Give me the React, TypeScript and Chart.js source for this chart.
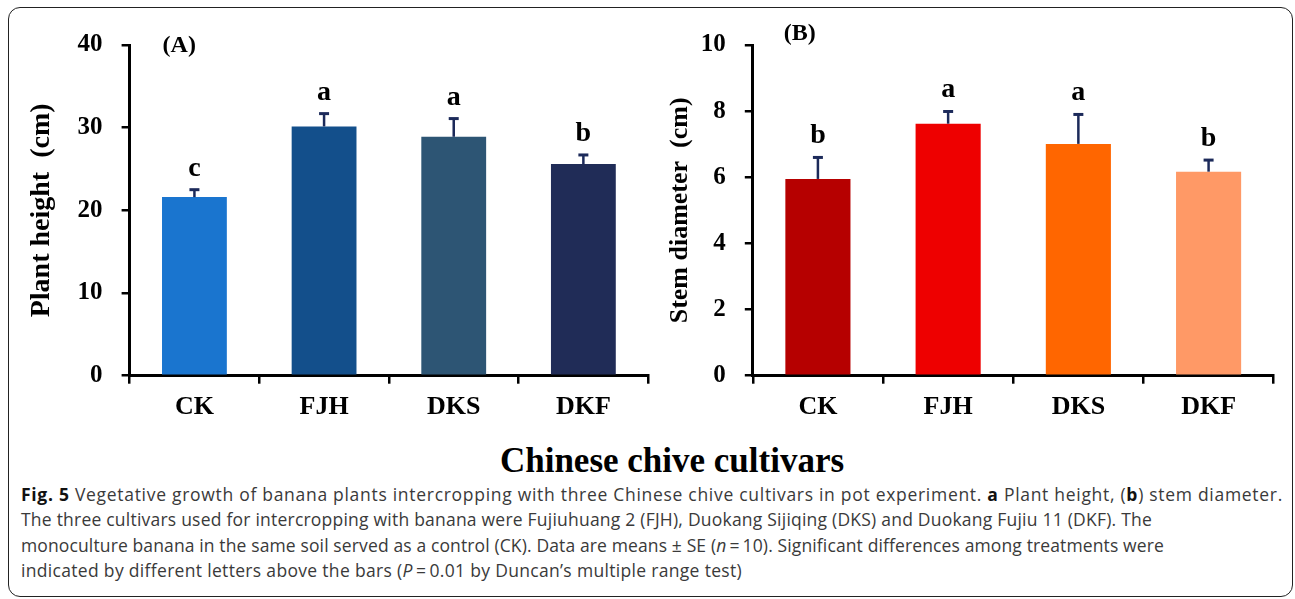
import React, { useEffect, useLayoutEffect, useRef } from "react";
import { Chart, registerables } from "chart.js";

Chart.register(...registerables);

const categories = ["CK", "FJH", "DKS", "DKF"];

const heightMeans = [21.6, 30.15, 28.9, 25.6];
const heightSE = [0.9, 1.55, 2.2, 1.1];
const heightLetters = ["c", "a", "a", "b"];
const heightColors = ["#1a75cf", "#134f8b", "#2d5574", "#202c57"];

const diameterMeans = [5.95, 7.62, 7.01, 6.17];
const diameterSE = [0.65, 0.37, 0.89, 0.35];
const diameterLetters = ["b", "a", "a", "b"];
const diameterColors = ["#b60000", "#ee0000", "#ff6600", "#ff9966"];

const SERIF = '"Liberation Serif", "Times New Roman", serif';

type PanelSpec = {
  means: number[];
  se: number[];
  letters: string[];
  colors: string[];
  yMax: number;
  yStep: number;
  yTitle: string;
  yTitleSize: number;
  yTitlePad: number;
  panel: string;
  panelDx: number;
  panelY: number;
  axisWidth: number;
  padRight: number;
  canvasW: number;
};

function makeAnnotPlugin(spec: PanelSpec) {
  return {
    id: "annot",
    afterDatasetsDraw(chart: any) {
      const { ctx } = chart;
      const y = chart.scales.y;
      const meta = chart.getDatasetMeta(0);
      ctx.save();
      meta.data.forEach((bar: any, i: number) => {
        const cx = bar.x;
        const base = y.getPixelForValue(spec.means[i]);
        const top = y.getPixelForValue(spec.means[i] + spec.se[i]);
        ctx.strokeStyle = "#1c2a5a";
        ctx.lineWidth = 2.5;
        ctx.beginPath();
        ctx.moveTo(cx, base);
        ctx.lineTo(cx, top);
        ctx.stroke();
        ctx.lineWidth = 3;
        ctx.beginPath();
        ctx.moveTo(cx - 5, top);
        ctx.lineTo(cx + 5, top);
        ctx.stroke();
        ctx.fillStyle = "#000";
        ctx.font = `bold 28px ${SERIF}`;
        ctx.textAlign = "center";
        ctx.textBaseline = "alphabetic";
        ctx.fillText(spec.letters[i], cx, top - 14);
      });
      ctx.font = `bold 24px ${SERIF}`;
      ctx.textAlign = "left";
      ctx.textBaseline = "middle";
      ctx.fillStyle = "#000";
      ctx.fillText(spec.panel, chart.chartArea.left + spec.panelDx, spec.panelY);
      ctx.restore();
    },
  };
}

function Panel({ spec, left }: { spec: PanelSpec; left: number }) {
  const ref = useRef<HTMLCanvasElement | null>(null);
  useEffect(() => {
    if (!ref.current) return;
    const chart = new Chart(ref.current, {
      type: "bar",
      data: {
        labels: categories,
        datasets: [
          {
            data: spec.means,
            backgroundColor: spec.colors,
            barPercentage: 0.5,
            categoryPercentage: 1,
          },
        ],
      },
      options: {
        animation: false,
        responsive: false,
        maintainAspectRatio: false,
        layout: { padding: { left: 0, top: 45, right: spec.padRight, bottom: 0 } },
        plugins: { legend: { display: false }, tooltip: { enabled: false } },
        scales: {
          x: {
            grid: {
              display: true,
              drawOnChartArea: false,
              drawTicks: true,
              tickLength: 8,
              color: "#000",
              lineWidth: 2.5,
              offset: true,
            },
            border: { display: true, color: "#000", width: 3 },
            ticks: {
              color: "#000",
              font: { family: SERIF, size: 26, weight: "bold" },
              padding: 8,
            },
            afterFit: (s: any) => {
              s.height = 54.3;
            },
          },
          y: {
            min: 0,
            max: spec.yMax,
            ticks: {
              stepSize: spec.yStep,
              color: "#000",
              font: { family: SERIF, size: 25, weight: "bold" },
              padding: 19,
            },
            grid: {
              display: true,
              drawOnChartArea: false,
              drawTicks: true,
              tickLength: 8,
              color: "#000",
              lineWidth: 2.5,
            },
            border: { display: true, color: "#000", width: 3 },
            title: {
              display: true,
              text: spec.yTitle,
              color: "#000",
              font: { family: SERIF, size: spec.yTitleSize, weight: "bold" },
              padding: { top: spec.yTitlePad, bottom: 0 },
            },
            afterFit: (s: any) => {
              s.width = spec.axisWidth;
            },
          },
        },
      } as any,
      plugins: [makeAnnotPlugin(spec) as any],
    });
    return () => chart.destroy();
  }, []);
  return (
    <canvas
      ref={ref}
      width={spec.canvasW}
      height={430}
      style={{ position: "absolute", left, top: 0, width: spec.canvasW, height: 430 }}
    />
  );
}

const specA: PanelSpec = {
  means: heightMeans,
  se: heightSE,
  letters: heightLetters,
  colors: heightColors,
  yMax: 40,
  yStep: 10,
  yTitle: "Plant height  (cm)",
  yTitleSize: 28,
  yTitlePad: 25,
  panel: "(A)",
  panelDx: 33,
  panelY: 46,
  axisWidth: 129.6,
  padRight: 11.8,
  canvasW: 660,
};

const specB: PanelSpec = {
  means: diameterMeans,
  se: diameterSE,
  letters: diameterLetters,
  colors: diameterColors,
  yMax: 10,
  yStep: 2,
  yTitle: "Stem diameter  (cm)",
  yTitleSize: 26,
  yTitlePad: 25,
  panel: "(B)",
  panelDx: 31,
  panelY: 34,
  axisWidth: 112.8,
  padRight: 16.3,
  canvasW: 650,
};

const captionLines = [
  [
    { t: "Fig. 5", b: true, dark: true },
    { t: " Vegetative growth of banana plants intercropping with three Chinese chive cultivars in pot experiment. " },
    { t: "a", b: true, dark: true },
    { t: " Plant height, (" },
    { t: "b", b: true, dark: true },
    { t: ") stem diameter." },
  ],
  [
    {
      t: "The three cultivars used for intercropping with banana were Fujiuhuang 2 (FJH), Duokang Sijiqing (DKS) and Duokang Fujiu 11 (DKF). The",
    },
  ],
  [
    { t: "monoculture banana in the same soil served as a control (CK). Data are means \u00b1 SE (" },
    { t: "n", i: true },
    { t: "\u2009=\u200910). Significant differences among treatments were" },
  ],
  [
    { t: "indicated by different letters above the bars (" },
    { t: "P", i: true },
    { t: "\u2009=\u20090.01 by Duncan\u2019s multiple range test)" },
  ],
] as { t: string; b?: boolean; i?: boolean; dark?: boolean }[][];

const captionWidths = [1262, 1131, 1143, 721];

export default function App() {
  const lineRefs = useRef<(HTMLSpanElement | null)[]>([]);
  useEffect(() => {
    document.body.style.overflow = "hidden";
  }, []);
  useLayoutEffect(() => {
    lineRefs.current.forEach((el, i) => {
      if (!el) return;
      el.style.letterSpacing = "0px";
      const w = el.getBoundingClientRect().width;
      const n = (el.textContent || "").length;
      el.style.letterSpacing = `${(captionWidths[i] - w) / n}px`;
    });
  }, []);
  return (
    <div
      style={{
        position: "fixed",
        left: 0,
        top: 0,
        width: 1295,
        height: 599,
        background: "#fff",
        overflow: "hidden",
      }}
    >
      <div
        style={{
          position: "absolute",
          left: 8,
          top: 7,
          width: 1285,
          height: 590,
          boxSizing: "border-box",
          border: "1.5px solid #222",
          borderRadius: 12,
        }}
      />
      <Panel spec={specA} left={0} />
      <Panel spec={specB} left={640} />
      <div
        style={{
          position: "absolute",
          left: 0,
          width: 1344,
          top: 441,
          textAlign: "center",
          fontFamily: SERIF,
          fontWeight: "bold",
          fontSize: 35,
          lineHeight: "40px",
          color: "#000",
          whiteSpace: "nowrap",
        }}
      >
        Chinese chive cultivars
      </div>
      <div
        style={{
          position: "absolute",
          left: 21,
          top: 482,
          fontFamily: '"Open Sans", sans-serif',
          fontSize: 17.5,
          lineHeight: "25.3px",
          color: "#3a3a3a",
          whiteSpace: "nowrap",
        }}
      >
        {captionLines.map((line, li) => (
          <div key={li}>
            <span
              ref={(el) => {
                lineRefs.current[li] = el;
              }}
            >
              {line.map((s, si) => (
                <span
                  key={si}
                  style={{
                    fontWeight: s.b ? "bold" : "normal",
                    fontStyle: s.i ? "italic" : "normal",
                    color: s.dark ? "#111" : undefined,
                  }}
                >
                  {s.t}
                </span>
              ))}
            </span>
          </div>
        ))}
      </div>
    </div>
  );
}
